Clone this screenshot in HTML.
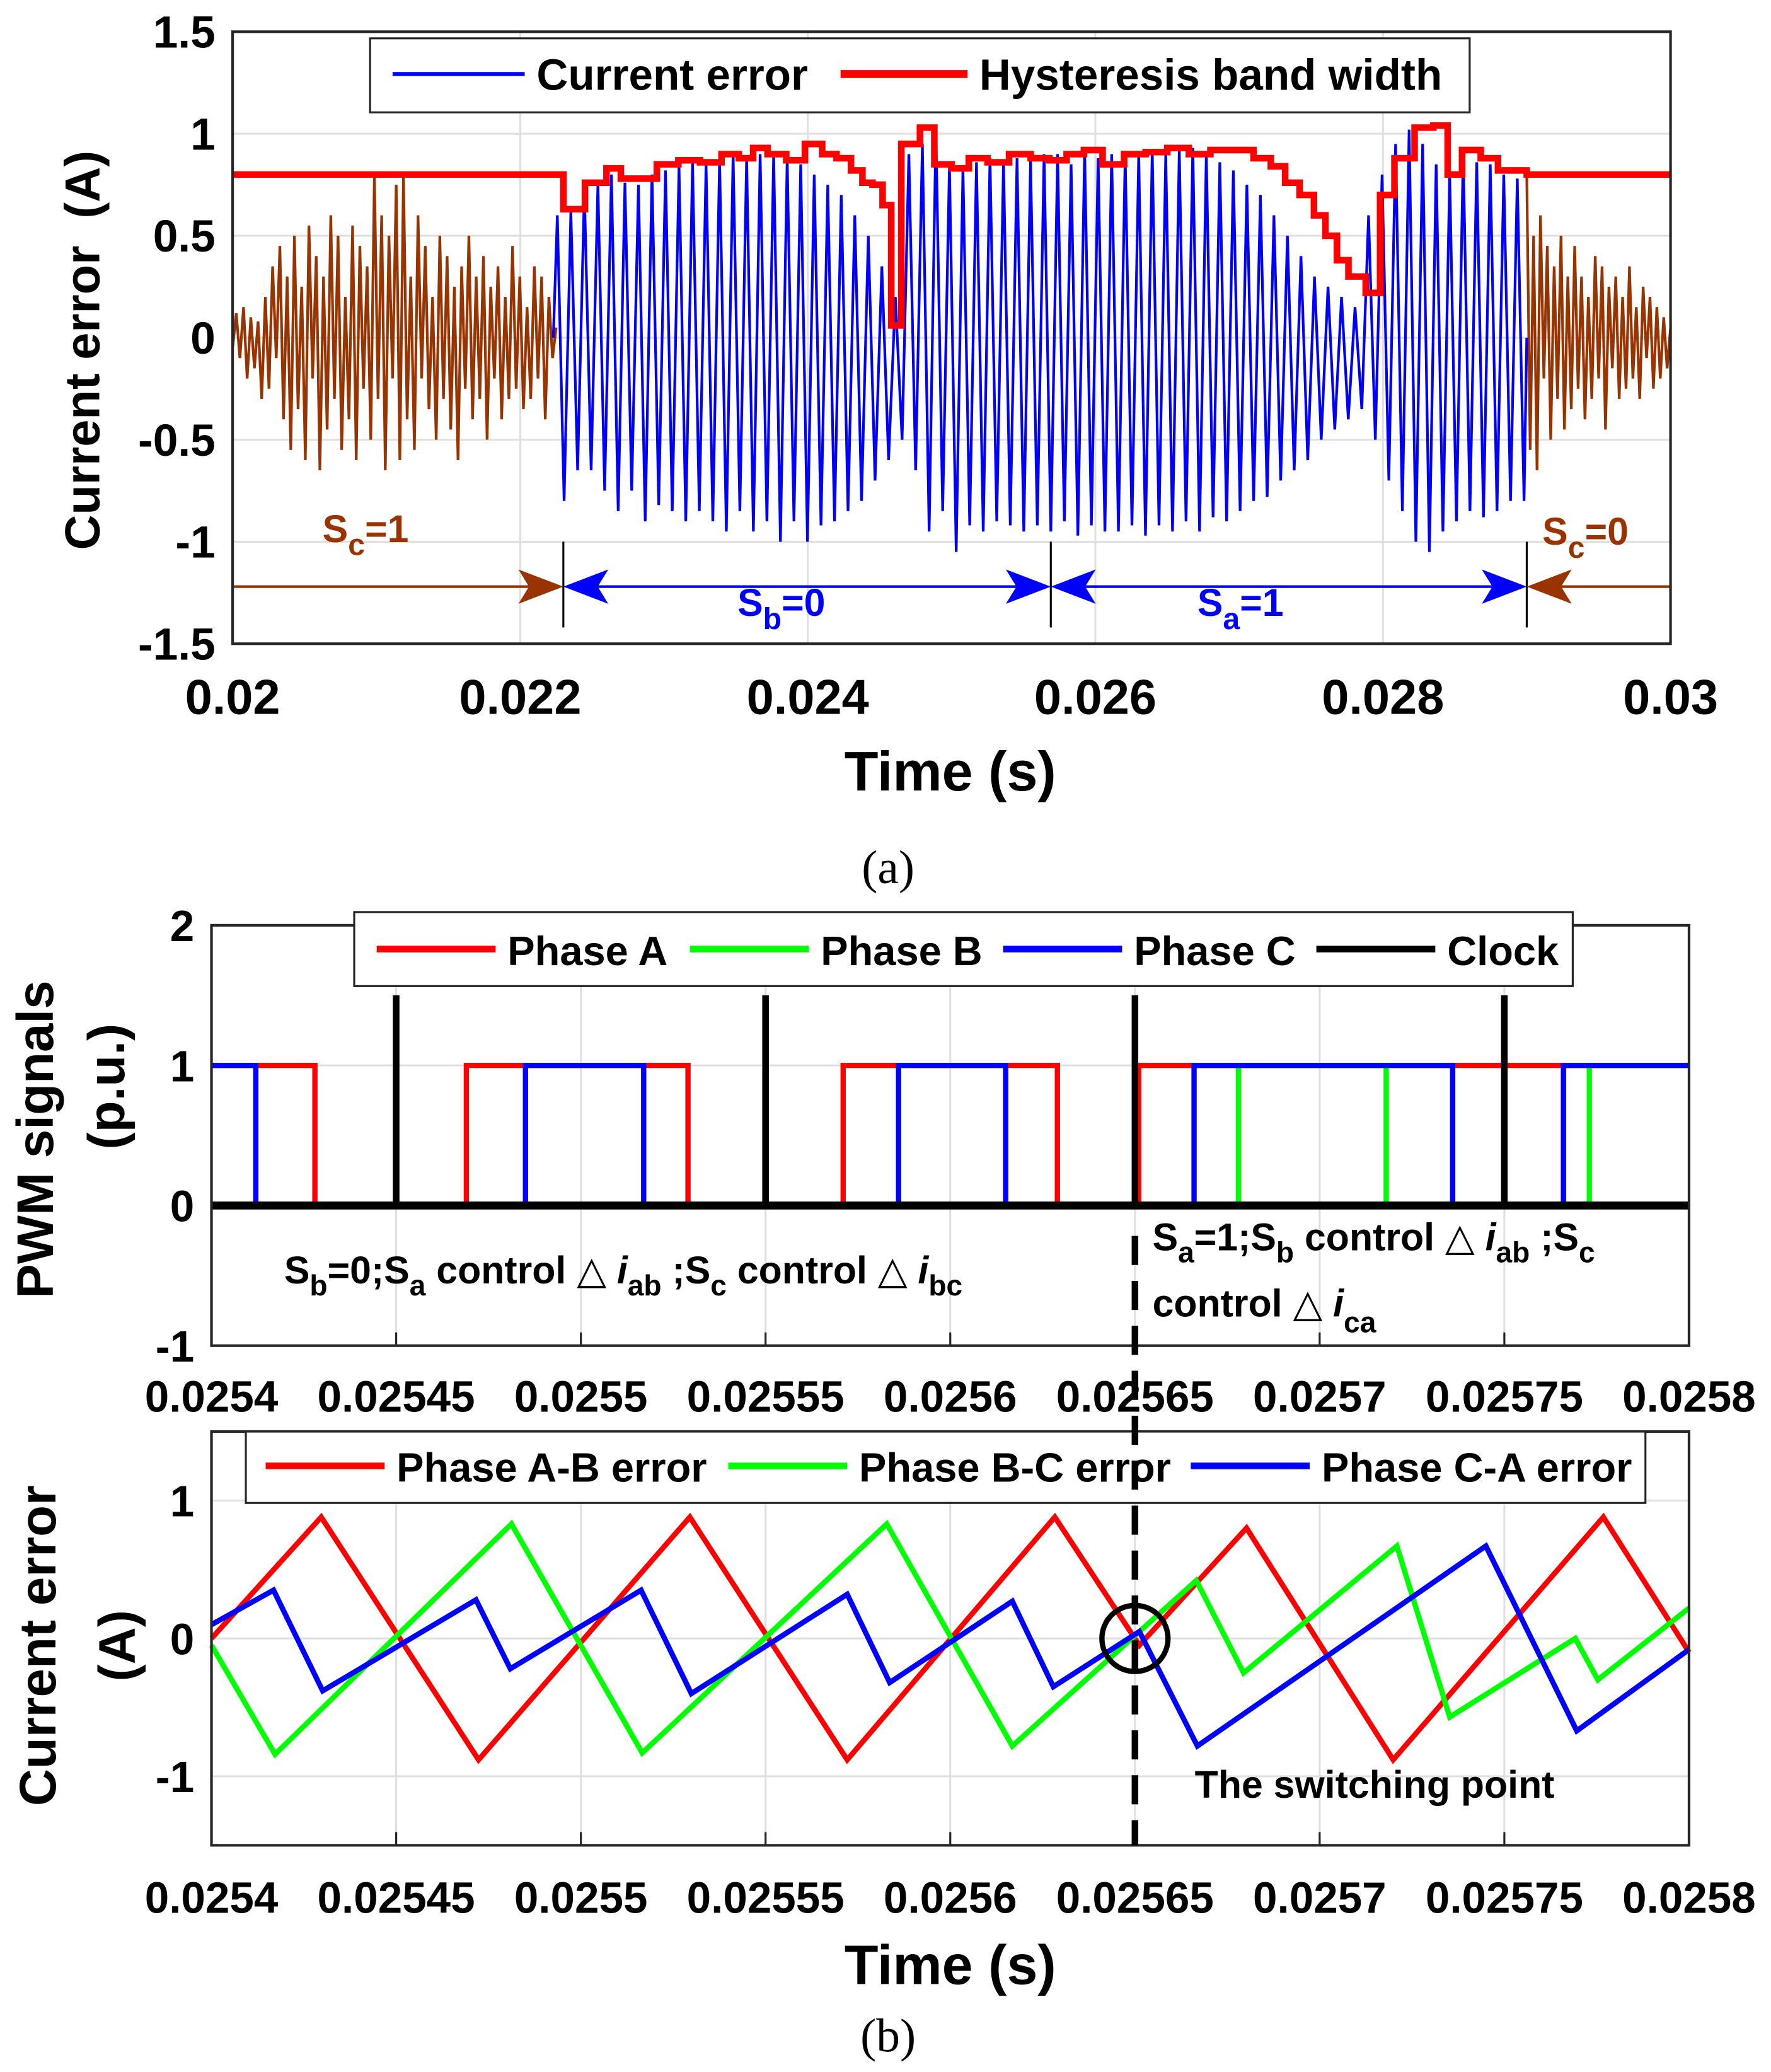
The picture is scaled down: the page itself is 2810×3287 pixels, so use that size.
<!DOCTYPE html>
<html><head><meta charset="utf-8"><style>
html,body{margin:0;padding:0;background:#fff}
svg{display:block}
text{font-family:"Liberation Sans",sans-serif;font-weight:bold}
</style></head><body>
<svg id="fig" width="2810" height="3287" viewBox="0 0 1340 1567.5" xmlns="http://www.w3.org/2000/svg">
<g id="pa"></g>
<g id="pb1"></g>
<g id="pb2"></g>
<text x="672" y="668" font-size="36" text-anchor="middle" style="font-family:'Liberation Serif',serif;font-weight:normal">(a)</text>
<text x="672" y="1552" font-size="36" text-anchor="middle" style="font-family:'Liberation Serif',serif;font-weight:normal">(b)</text>
</svg>
<script>
// ---------- Panel (a) data ----------
const aXTicks = [0.02,0.022,0.024,0.026,0.028,0.03];
const aXTickLabels = ["0.02","0.022","0.024","0.026","0.028","0.03"];
const aYTicks = [1.5,1,0.5,0,-0.5,-1,-1.5];
const aYTickLabels = ["1.5","1","0.5","0","-0.5","-1","-1.5"];
const brownLeft = [-0.05,0.12,-0.1,0.15,-0.2,0.1,-0.15,0.08,-0.3,0.2,-0.25,0.35,-0.1,0.45,-0.4,0.3,-0.55,0.5,-0.35,0.25,-0.6,0.55,-0.2,0.4,-0.65,0.3,-0.45,0.6,-0.3,0.5,-0.55,0.2,-0.4,0.55,-0.6,0.45,-0.25,0.35,-0.5,0.8,-0.3,0.6,-0.65,0.5,-0.2,0.75,-0.6,0.8,-0.4,0.3,-0.55,0.6,-0.2,0.45,-0.35,0.2,-0.5,0.5,-0.3,0.4,-0.45,0.25,-0.6,0.35,-0.25,0.5,-0.4,0.3,-0.3,0.4,-0.5,0.25,-0.2,0.35,-0.4,0.2,-0.3,0.45,-0.25,0.3,-0.35,0.15,-0.3,0.35,-0.2,0.3,-0.4,0.2,-0.1,0.05];
const brownRight = [0.8,-0.55,0.5,-0.65,0.6,-0.2,0.45,-0.5,0.35,-0.3,0.5,-0.45,0.3,-0.35,0.45,-0.25,0.3,-0.4,0.2,-0.3,0.4,-0.2,0.35,-0.45,0.25,-0.15,0.3,-0.3,0.2,-0.25,0.35,-0.2,0.15,-0.3,0.25,-0.1,0.2,-0.25,0.15,-0.2,0.1,-0.15,0.05];
const blueHighs = [0.6,0.62,0.72,0.75,0.8,0.76,0.75,0.8,0.82,0.84,0.86,0.85,0.88,0.9,0.88,0.9,0.9,0.88,0.85,0.8,0.75,0.7,0.6,0.5,0.35,0.2,
 0.9,0.95,1.02,0.85,0.83,0.86,0.88,0.86,0.88,0.87,0.9,0.9,0.85,0.92,0.88,0.9,0.9,0.9,0.92,0.9,0.92,0.93,0.9,0.86,0.82,0.75,0.7,0.6,0.5,0.4,0.3,0.25,0.2,0.15,
 0.6,0.8,0.95,1.02,0.95,0.85,0.8,0.9,0.86,0.85,0.8,0.78];
const blueLows = [-0.8,-0.65,-0.65,-0.75,-0.85,-0.75,-0.9,-0.82,-0.85,-0.9,-0.85,-0.9,-0.95,-0.85,-0.95,-0.9,-1.0,-0.9,-1.0,-0.92,-0.9,-0.85,-0.8,-0.7,-0.6,-0.5,
 -0.65,-0.95,-0.85,-1.05,-0.92,-0.95,-0.9,-0.92,-0.95,-0.92,-0.95,-0.9,-0.97,-0.92,-0.95,-0.95,-0.92,-0.97,-0.92,-0.95,-0.9,-0.95,-0.88,-0.9,-0.85,-0.8,-0.78,-0.7,-0.65,-0.6,-0.5,-0.45,-0.4,-0.35,
 -0.5,-0.7,-0.85,-1.0,-1.05,-0.95,-0.9,-0.85,-0.88,-0.85,-0.8,-0.8];
const bandTimes = [0.02,0.02230,0.02245,0.02260,0.02270,0.02280,0.02295,0.02310,0.02325,0.02340,0.02352,0.02362,0.02372,0.02385,0.02398,0.02410,0.02420,0.02430,0.02438,0.02445,0.02452,0.02458,0.02465,0.02478,0.02488,0.02500,0.02512,0.02525,0.02540,0.02555,0.02568,0.02580,0.02592,0.02605,0.02620,0.02635,0.02650,0.02665,0.02680,0.02695,0.02710,0.02722,0.02732,0.02742,0.02752,0.02760,0.02768,0.02776,0.02788,0.02798,0.02808,0.02822,0.02835,0.02845,0.02855,0.02868,0.02880,0.02900];
const bandValues = [0.8,0.63,0.76,0.83,0.78,0.78,0.85,0.87,0.86,0.9,0.88,0.93,0.9,0.87,0.95,0.9,0.88,0.82,0.76,0.75,0.65,0.06,0.95,1.03,0.85,0.83,0.88,0.86,0.9,0.88,0.87,0.9,0.92,0.85,0.9,0.91,0.93,0.9,0.92,0.92,0.88,0.84,0.76,0.7,0.6,0.5,0.38,0.3,0.22,0.7,0.88,1.03,1.04,0.8,0.92,0.88,0.82,0.8];
const bandEnd = 0.03;
const segBounds = [0.02230,0.02569,0.02900];

// ---------- Panel (b) data ----------
const bXTicks = [0.0254,0.02545,0.0255,0.02555,0.0256,0.02565,0.0257,0.02575,0.0258];
const bXTickLabels = ["0.0254","0.02545","0.0255","0.02555","0.0256","0.02565","0.0257","0.02575","0.0258"];
const pwmYTicks = [2,1,0,-1];
const errYTicks = [1,0,-1];
const phaseATimes = [0.0254,0.025428,0.025469,0.025529,0.025571,0.025629,0.025651];
const phaseAVals  = [1,0,1,0,1,0,1];
const phaseBTimes = [0.0254,0.025678,0.025718,0.025773];
const phaseBVals  = [0,1,0,1];
const phaseCTimes = [0.0254,0.025412,0.025485,0.025517,0.025586,0.025615,0.025666,0.025736,0.025766];
const phaseCVals  = [1,0,1,0,1,0,1,0,1];
const clockTimes = [0.02545,0.02555,0.02565,0.02575];
const clockHeight = 1.5;
const abT = [0.0254,0.0254297,0.0254723,0.0255295,0.0255721,0.0256283,0.0256512,0.0256802,0.0257199,0.0257768,0.0258];
const abV = [0,0.88,-0.88,0.88,-0.88,0.88,-0.05,0.8,-0.88,0.88,-0.1];
const bcT = [0.0254,0.0254172,0.0254812,0.0255166,0.0255828,0.0256168,0.0256512,0.0256666,0.0256794,0.0257209,0.0257352,0.0257692,0.0257753,0.0258];
const bcV = [-0.05,-0.84,0.83,-0.83,0.83,-0.78,0.05,0.42,-0.25,0.67,-0.57,0.0,-0.3,0.22];
const caT = [0.0254,0.0254168,0.0254301,0.0254716,0.0254809,0.0255163,0.0255299,0.0255721,0.0255836,0.0256168,0.0256279,0.0256512,0.0256669,0.025745,0.0257696,0.0258];
const caV = [0.1,0.35,-0.38,0.28,-0.22,0.35,-0.4,0.32,-0.32,0.27,-0.35,0.05,-0.78,0.67,-0.67,-0.08];
const switchTime = 0.02565;

const NS="http://www.w3.org/2000/svg";
function mk(parent,tag,attrs,txt){const e=document.createElementNS(NS,tag);for(const k in attrs)e.setAttribute(k,attrs[k]);if(txt!==undefined)e.textContent=txt;parent.appendChild(e);return e;}
function lin(d0,d1,r0,r1){return v=>r0+(v-d0)/(d1-d0)*(r1-r0);}

// ===== Panel A =====
const pa=document.getElementById('pa');
const ax=lin(0.02,0.03,176,1264), ay=lin(1.5,-1.5,24,487);
aXTicks.forEach((t,i)=>{
  const g=mk(pa,'line',{x1:ax(t),x2:ax(t),y1:24,y2:487,stroke:'#e0e0e0','stroke-width':1.5});
  
  
  const l=mk(pa,'text',{x:ax(t),y:540,'font-size':37,'text-anchor':'middle'},aXTickLabels[i]);
  
  
});
aYTicks.forEach((v,i)=>{
  const g=mk(pa,'line',{x1:176,x2:1264,y1:ay(v),y2:ay(v),stroke:'#e0e0e0','stroke-width':1.5});
  
  
  const l=mk(pa,'text',{x:163,y:ay(v)+12,'font-size':34,'text-anchor':'end'},aYTickLabels[i]);
  
  
});
{
  let pts=[];const t0=0.02,t1=0.02225;
  brownLeft.forEach((v,i)=>pts.push(ax(t0+(t1-t0)*i/(brownLeft.length-1))+','+ay(v)));
  const p=mk(pa,'polyline',{points:pts.join(' '),fill:'none',stroke:'#993300','stroke-width':2});
  
  
  pts=[];const r0=0.02900,r1=0.03;
  brownRight.forEach((v,i)=>pts.push(ax(r0+(r1-r0)*i/(brownRight.length-1))+','+ay(v)));
  const p2=mk(pa,'polyline',{points:pts.join(' '),fill:'none',stroke:'#993300','stroke-width':2});
  
  
}
{
  const pts=[];const t0=0.02223,t1=0.02900,n=blueHighs.length;
  pts.push(ax(t0)+','+ay(0));
  for(let i=0;i<n;i++){
    const tc=t0+(t1-t0)*i/n, dt=(t1-t0)/n;
    pts.push(ax(tc+dt*0.3)+','+ay(blueHighs[i]));
    pts.push(ax(tc+dt*0.8)+','+ay(blueLows[i]));
  }
  pts.push(ax(t1)+','+ay(0));
  const p=mk(pa,'polyline',{points:pts.join(' '),fill:'none',stroke:'#0000ff','stroke-width':2});
  
  
}
{
  const pts=[];
  for(let i=0;i<bandTimes.length;i++){
    const tn=i+1<bandTimes.length?bandTimes[i+1]:bandEnd;
    pts.push(ax(bandTimes[i])+','+ay(bandValues[i]));
    pts.push(ax(tn)+','+ay(bandValues[i]));
  }
  const p=mk(pa,'polyline',{points:pts.join(' '),fill:'none',stroke:'#ff0000','stroke-width':5,'stroke-linejoin':'miter'});
  
  
}
{
  const yA=ay(-1.22);
  segBounds.forEach(t=>{
    const l=mk(pa,'line',{x1:ax(t),x2:ax(t),y1:ay(-1.0),y2:ay(-1.42),stroke:'#000','stroke-width':1.5});
    
    
  });
  function head(x,dir,col){const h=mk(pa,'polygon',{points:`${x},${yA} ${x-dir*34},${yA-13} ${x-dir*26},${yA} ${x-dir*34},${yA+13}`,fill:col});
    
    }
  const b1=ax(segBounds[0]),b2=ax(segBounds[1]),b3=ax(segBounds[2]);
  let l;
  l=mk(pa,'line',{x1:176,x2:b1-10,y1:yA,y2:yA,stroke:'#993300','stroke-width':2});
  head(b1,1,'#993300');
  l=mk(pa,'line',{x1:b1+10,x2:b2-10,y1:yA,y2:yA,stroke:'#0000ff','stroke-width':2});
  head(b1,-1,'#0000ff');head(b2,1,'#0000ff');
  l=mk(pa,'line',{x1:b2+10,x2:b3-10,y1:yA,y2:yA,stroke:'#0000ff','stroke-width':2});
  head(b2,-1,'#0000ff');head(b3,1,'#0000ff');
  l=mk(pa,'line',{x1:b3+10,x2:1264,y1:yA,y2:yA,stroke:'#993300','stroke-width':2});
  head(b3,-1,'#993300');
}
mk(pa,'rect',{x:176,y:24,width:1088,height:463,fill:'none',stroke:'#262626','stroke-width':2});
pa.insertAdjacentHTML('beforeend',`
<text x="244" y="410" font-size="29" fill="#993300">S<tspan font-size="23" dy="10">c</tspan><tspan dy="-10">=1</tspan></text>
<text x="558" y="466" font-size="29" fill="#0000ff">S<tspan font-size="23" dy="10">b</tspan><tspan dy="-10">=0</tspan></text>
<text x="906" y="466" font-size="29" fill="#0000ff">S<tspan font-size="23" dy="10">a</tspan><tspan dy="-10">=1</tspan></text>
<text x="1167" y="412" font-size="29" fill="#993300">S<tspan font-size="23" dy="10">c</tspan><tspan dy="-10">=0</tspan></text>
<g>
<rect x="280" y="29" width="832" height="56" fill="#fff" stroke="#262626" stroke-width="1.5"/>
<line x1="297" x2="397" y1="56" y2="56" stroke="#0000ff" stroke-width="3"/>
<text x="406" y="68" font-size="33">Current error</text>
<line x1="636" x2="732" y1="56" y2="56" stroke="#ff0000" stroke-width="6"/>
<text x="741" y="68" font-size="33">Hysteresis band width</text>
</g>
<text x="719" y="598" font-size="42" text-anchor="middle">Time (s)</text>
<text transform="translate(75,265) rotate(-90)" font-size="37" text-anchor="middle" xml:space="preserve">Current error  (A)</text>
`);

// ===== Panel B1 (PWM) =====
const pb1=document.getElementById('pb1');
const bx=lin(0.0254,0.0258,160,1278), py=lin(2,-1,700,1018);
bXTicks.forEach((t,i)=>{
  const g=mk(pb1,'line',{x1:bx(t),x2:bx(t),y1:700,y2:1018,stroke:'#e0e0e0','stroke-width':1.5});
  
  
  const tk=mk(pb1,'line',{x1:bx(t),x2:bx(t),y1:1018,y2:1008,stroke:'#262626','stroke-width':1.5});
  
  
  const l=mk(pb1,'text',{x:bx(t),y:1068,'font-size':33,'text-anchor':'middle'},bXTickLabels[i]);
  
  
});
pwmYTicks.forEach(v=>{
  const g=mk(pb1,'line',{x1:160,x2:1278,y1:py(v),y2:py(v),stroke:'#e0e0e0','stroke-width':1.5});
  
  
  const l=mk(pb1,'text',{x:147,y:py(v)+12,'font-size':33,'text-anchor':'end'},String(v));
  
  
});
function stepPts(ts,vs){const p=[];for(let i=0;i<ts.length;i++){const tn=i+1<ts.length?ts[i+1]:0.0258;p.push(bx(ts[i])+','+py(vs[i]));p.push(bx(tn)+','+py(vs[i]));}return p.join(' ');}
{
  let p=mk(pb1,'polyline',{points:stepPts(phaseATimes,phaseAVals),fill:'none',stroke:'#ff0000','stroke-width':4});
  
  p=mk(pb1,'polyline',{points:stepPts(phaseBTimes,phaseBVals),fill:'none',stroke:'#00ff00','stroke-width':4});
  
  p=mk(pb1,'polyline',{points:stepPts(phaseCTimes,phaseCVals),fill:'none',stroke:'#0000ff','stroke-width':4});
  
  p=mk(pb1,'line',{x1:160,x2:1278,y1:py(0),y2:py(0),stroke:'#000','stroke-width':6});
  
  clockTimes.forEach(t=>{
    const c=mk(pb1,'line',{x1:bx(t),x2:bx(t),y1:py(0),y2:py(clockHeight),stroke:'#000','stroke-width':5});
    
    
  });
}
mk(pb1,'rect',{x:160,y:700,width:1118,height:318,fill:'none',stroke:'#262626','stroke-width':2});
pb1.insertAdjacentHTML('beforeend',`
<g>
<rect x="268" y="690" width="922" height="56" fill="#fff" stroke="#262626" stroke-width="1.5"/>
<line x1="285" x2="375" y1="718" y2="718" stroke="#ff0000" stroke-width="5"/>
<text x="384" y="730" font-size="31">Phase A</text>
<line x1="522" x2="612" y1="718" y2="718" stroke="#00ff00" stroke-width="5"/>
<text x="621" y="730" font-size="31">Phase B</text>
<line x1="759" x2="849" y1="718" y2="718" stroke="#0000ff" stroke-width="5"/>
<text x="858" y="730" font-size="31">Phase C</text>
<line x1="996" x2="1086" y1="718" y2="718" stroke="#000" stroke-width="5"/>
<text x="1095" y="730" font-size="31">Clock</text>
</g>
<text x="215" y="971" font-size="29">S<tspan font-size="22" dy="9">b</tspan><tspan dy="-9">=0;S</tspan><tspan font-size="22" dy="9">a</tspan><tspan dy="-9"> control</tspan><tspan style="font-weight:normal"> △</tspan><tspan font-style="italic"> i</tspan><tspan font-size="22" dy="9">ab</tspan><tspan dy="-9"> ;S</tspan><tspan font-size="22" dy="9">c</tspan><tspan dy="-9"> control</tspan><tspan style="font-weight:normal"> △</tspan><tspan font-style="italic"> i</tspan><tspan font-size="22" dy="9">bc</tspan></text>
<text x="872" y="946" font-size="29">S<tspan font-size="22" dy="9">a</tspan><tspan dy="-9">=1;S</tspan><tspan font-size="22" dy="9">b</tspan><tspan dy="-9"> control</tspan><tspan style="font-weight:normal"> △</tspan><tspan font-style="italic"> i</tspan><tspan font-size="22" dy="9">ab</tspan><tspan dy="-9"> ;S</tspan><tspan font-size="22" dy="9">c</tspan></text>
<text x="872" y="996" font-size="29">control<tspan style="font-weight:normal"> △</tspan><tspan font-style="italic"> i</tspan><tspan font-size="22" dy="12">ca</tspan></text>
<text transform="translate(40,862) rotate(-90)" font-size="39" text-anchor="middle">PWM signals</text>
<text transform="translate(94,822) rotate(-90)" font-size="39" text-anchor="middle">(p.u.)</text>
`);

// ===== Panel B2 (errors) =====
const pb2=document.getElementById('pb2');
const ey=lin(1.5,-1.5,1083,1396);
bXTicks.forEach((t,i)=>{
  const g=mk(pb2,'line',{x1:bx(t),x2:bx(t),y1:1083,y2:1396,stroke:'#e0e0e0','stroke-width':1.5});
  
  
  const tk=mk(pb2,'line',{x1:bx(t),x2:bx(t),y1:1396,y2:1386,stroke:'#262626','stroke-width':1.5});
  
  
  const l=mk(pb2,'text',{x:bx(t),y:1447,'font-size':33,'text-anchor':'middle'},bXTickLabels[i]);
  
  
});
errYTicks.forEach(v=>{
  const g=mk(pb2,'line',{x1:160,x2:1278,y1:ey(v),y2:ey(v),stroke:'#e0e0e0','stroke-width':1.5});
  
  
  const l=mk(pb2,'text',{x:147,y:ey(v)+12,'font-size':33,'text-anchor':'end'},String(v));
  
  
});
function linePts(ts,vs){return ts.map((t,i)=>bx(t)+','+ey(vs[i])).join(' ');}
{
  let p=mk(pb2,'polyline',{points:linePts(abT,abV),fill:'none',stroke:'#ff0000','stroke-width':4});
  
  p=mk(pb2,'polyline',{points:linePts(bcT,bcV),fill:'none',stroke:'#00ff00','stroke-width':4});
  
  p=mk(pb2,'polyline',{points:linePts(caT,caV),fill:'none',stroke:'#0000ff','stroke-width':4});
  
  p=mk(pb2,'circle',{cx:bx(switchTime),cy:ey(0),r:25,fill:'none',stroke:'#000','stroke-width':4});
  
}
mk(pb2,'rect',{x:160,y:1083,width:1118,height:313,fill:'none',stroke:'#262626','stroke-width':2});
pb2.insertAdjacentHTML('beforeend',`
<g>
<rect x="186" y="1083" width="1059" height="54" fill="#fff" stroke="#262626" stroke-width="1.5"/>
<line x1="201" x2="291" y1="1109" y2="1109" stroke="#ff0000" stroke-width="5"/>
<text x="300" y="1121" font-size="31">Phase A-B error</text>
<line x1="551" x2="641" y1="1109" y2="1109" stroke="#00ff00" stroke-width="5"/>
<text x="650" y="1121" font-size="31">Phase B-C error</text>
<line x1="901" x2="991" y1="1109" y2="1109" stroke="#0000ff" stroke-width="5"/>
<text x="1000" y="1121" font-size="31">Phase C-A error</text>
</g>
<text x="904" y="1360" font-size="29">The switching point</text>
<text x="719" y="1501" font-size="42" text-anchor="middle">Time (s)</text>
<text transform="translate(42,1245) rotate(-90)" font-size="39" text-anchor="middle">Current error</text>
<text transform="translate(102,1245) rotate(-90)" font-size="39" text-anchor="middle">(A)</text>
`);
{
  const d=mk(document.getElementById('fig'),'line',{x1:bx(switchTime),x2:bx(switchTime),y1:935,y2:1396,stroke:'#000','stroke-width':5,'stroke-dasharray':'22,12'});
  
  
}
</script>
</body></html>
